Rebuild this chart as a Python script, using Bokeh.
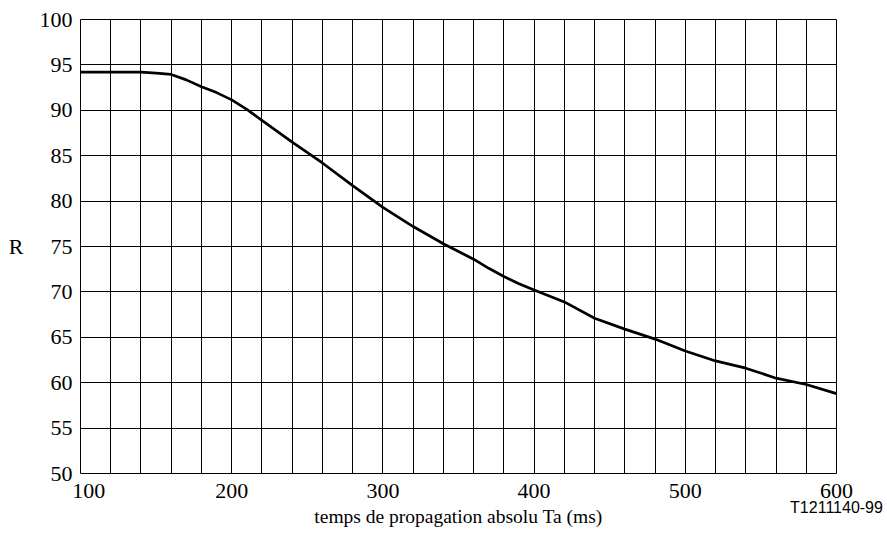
from bokeh.plotting import figure
from bokeh.models import FixedTicker, LinearAxis, Range1d
from bokeh.embed import file_html
from bokeh.resources import INLINE

# Data
ta_ms = [100, 120, 140, 150, 160, 170, 180, 190, 200, 210, 220, 240, 260, 280,
         300, 320, 340, 360, 370, 380, 390, 400, 420, 440, 460, 480, 500, 520,
         540, 560, 580, 600]
r_values = [94.2, 94.2, 94.2, 94.1, 93.95, 93.35, 92.6, 91.95, 91.15, 90.1, 88.9,
            86.5, 84.2, 81.7, 79.3, 77.2, 75.3, 73.6, 72.6, 71.7, 70.9, 70.2,
            68.9, 67.1, 65.9, 64.8, 63.5, 62.4, 61.6, 60.5, 59.8, 58.8]

x_label_ticks = [100, 200, 300, 400, 500, 600]
x_grid_ticks = list(range(100, 601, 20))
y_ticks = [50, 55, 60, 65, 70, 75, 80, 85, 90, 95, 100]

x_title = "temps de propagation absolu Ta (ms)"
y_title = "R"
ref_code = "T1211140-99"
ref_code_at = 600

SERIF = "Liberation Serif"

p = figure(width=887, height=533, output_backend="svg", toolbar_location=None,
           x_range=Range1d(100, 600), y_range=Range1d(50, 100),
           min_border_left=80, min_border_right=51, min_border_top=19,
           min_border_bottom=60)
p.background_fill_color = "white"
p.border_fill_color = "white"
p.outline_line_color = "black"
p.outline_line_width = 1

p.line(ta_ms, r_values, line_color="black", line_width=2.7)

xaxis = p.below[0]
yaxis = p.left[0]

xaxis.ticker = FixedTicker(ticks=x_label_ticks)
yaxis.ticker = FixedTicker(ticks=y_ticks)
p.xgrid.ticker = FixedTicker(ticks=x_grid_ticks)
p.ygrid.ticker = FixedTicker(ticks=y_ticks)
for g in (p.xgrid, p.ygrid):
    g.grid_line_color = "black"
    g.grid_line_width = 1
    g.grid_line_alpha = 1.0

xaxis.major_label_overrides = {100: "\u00a0\u00a0\u00a0100"}

# second axis below: carries the reference code and the axis title
code_axis = LinearAxis(ticker=FixedTicker(ticks=[ref_code_at]),
                       major_label_overrides={ref_code_at: ref_code})

for ax in (xaxis, yaxis, code_axis):
    ax.axis_line_color = None
    ax.major_tick_line_color = None
    ax.minor_tick_line_color = None
    ax.major_tick_out = 0
    ax.major_tick_in = 0
    ax.minor_tick_out = 0
    ax.minor_tick_in = 0
    ax.major_label_text_font = SERIF
    ax.major_label_text_font_size = "22px"
    ax.major_label_text_color = "black"
    ax.axis_label_text_font = SERIF
    ax.axis_label_text_font_style = "normal"
    ax.axis_label_text_color = "black"

xaxis.major_label_standoff = 4

code_axis.major_label_text_font = "Liberation Sans"
code_axis.major_label_text_font_size = "16px"
code_axis.major_label_standoff = -7
code_axis.axis_label = x_title
code_axis.axis_label_text_font_size = "19.5px"
code_axis.axis_label_standoff = -13
p.add_layout(code_axis, "below")

yaxis.axis_label = y_title
yaxis.axis_label_text_font_size = "22px"
yaxis.axis_label_orientation = "horizontal"
yaxis.major_label_standoff = 8
yaxis.axis_label_standoff = 13

open("out.html", "w").write(file_html(p, INLINE))
